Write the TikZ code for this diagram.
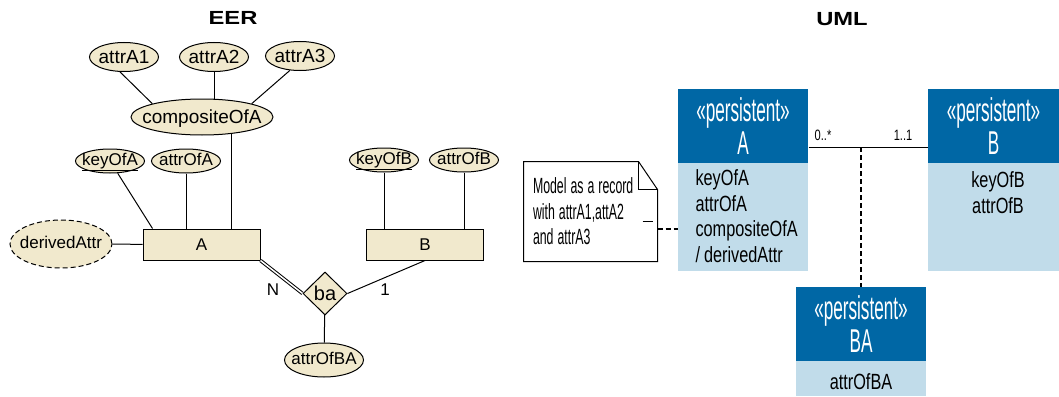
\documentclass[tikz,border=0pt]{standalone}
\usepackage{fontspec}
\setmainfont{Liberation Sans}
\newfontfamily\umlhead[FakeStretch=0.52]{Liberation Sans}
\newfontfamily\umlbody[FakeStretch=0.74]{Liberation Sans}
\newfontfamily\umlnote[FakeStretch=0.56]{Liberation Sans}
\newfontfamily\titlefont[FakeStretch=1.25]{Liberation Sans}
\usetikzlibrary{shapes.geometric}
\definecolor{eerfill}{HTML}{F1E9CD}
\definecolor{umldark}{HTML}{0067A5}
\definecolor{umllight}{HTML}{C1DCEA}
\newcommand{\etxt}[1]{\makebox[0pt]{#1}}
\newcommand{\tightspace}{\spaceskip=4pt\relax}

\begin{document}
\begin{tikzpicture}[x=1pt,y=-1pt,line width=1pt,
  heading/.style={font=\titlefont\bfseries\fontsize{19}{22}\selectfont},
  attr/.style={ellipse,draw,fill=eerfill,inner sep=0pt,minimum width=69pt,minimum height=24pt,
    text height=12pt,text depth=3pt,font=\fontsize{17}{20}\selectfont},
  bigattr/.style={attr,minimum height=29pt,text height=13.5pt,text depth=0pt,font=\fontsize{19}{22}\selectfont},
  entity/.style={draw,fill=eerfill,minimum width=117pt,minimum height=31pt,inner sep=0pt,font=\fontsize{17}{20}\selectfont},
  relation/.style={diamond,draw,fill=eerfill,minimum width=44pt,minimum height=43pt,inner sep=0pt,font=\fontsize{20}{22}\selectfont},
  card/.style={font=\fontsize{17}{20}\selectfont},
  classhead/.style={fill=umldark,text=white,minimum width=130pt,minimum height=74pt,inner sep=0pt,align=center,
    font=\umlhead\fontsize{33}{33}\selectfont},
  classbody/.style={fill=umllight,minimum width=130pt,inner sep=0pt},
  members/.style={inner sep=0pt,font=\umlbody\fontsize{22}{25.7}\selectfont},
  mult/.style={inner sep=0pt,font=\umlbody\fontsize{15}{16}\selectfont},
  notebox/.style={minimum width=133pt,minimum height=99pt,text width=115pt,inner xsep=9pt,inner ysep=0pt,align=left,
    font=\umlnote\fontsize{22}{25.5}\selectfont},
  dashlink/.style={dash pattern=on 5pt off 3pt,line width=1.5pt}]
\useasboundingbox (0,0) rectangle (1059,396);
\node[heading] (eer) at (233,18) {EER};
\node[heading] (uml) at (842,19) {UML};
\node[bigattr] (attrA1) at (124,57) {\etxt{attrA1}};
\node[bigattr] (attrA2) at (214,57) {\etxt{attrA2}};
\node[bigattr] (attrA3) at (300,56) {\etxt{attrA3}};
\node[bigattr,minimum width=142pt,minimum height=36pt] (compositeOfA) at (202,117) {\etxt{compositeOfA}};
\node[attr] (keyOfA) at (110,161) {\etxt{\underline{keyOfA}}};
\node[attr] (attrOfA) at (186,161) {\etxt{attrOfA}};
\node[attr,dash pattern=on 5pt off 3pt,minimum width=102pt,minimum height=48pt] (derivedAttr) at (61,244) {\etxt{derivedAttr}};
\node[entity] (A) at (201.5,244.5) {A};
\node[entity] (B) at (425,244.5) {B};
\node[attr] (keyOfB) at (384,160) {\etxt{\underline{keyOfB}}};
\node[attr] (attrOfB) at (464,160) {\etxt{attrOfB}};
\node[relation] (ba) at (325,293.5) {ba};
\node[attr,minimum width=79pt,minimum height=34pt] (attrOfBA) at (324,360) {\etxt{attrOfBA}};
\node[card] (cardN) at (273,290) {N};
\node[card] (card1) at (385,290) {1};
\draw (attrA1.-105) -- (compositeOfA.165);
\draw (attrA2.south) -- (attrA2.south |- compositeOfA.north);
\draw (attrA3.-125) -- (compositeOfA.15);
\draw (compositeOfA.-30) -- (compositeOfA.-30 |- A.north);
\draw (keyOfA) -- ([xshift=10pt]A.north west);
\draw (attrOfA) -- (attrOfA |- A.north);
\draw (derivedAttr) -- (A);
\draw (keyOfB) -- (keyOfB |- B.north);
\draw (attrOfB) -- (attrOfB |- B.north);
\draw[double,double distance=1.5pt] (A.south east) -- (ba.west);
\draw (B.south) -- (ba.east);
\draw (ba) -- (attrOfBA);
\node[classhead] (Ahead) at (743,126) {«persistent»\\A};
\node[classbody,minimum height=108pt] (Abody) at (743,217) {};
\node[classhead,minimum width=131pt] (Bhead) at (993.5,126) {«persistent»\\B};
\node[classbody,minimum width=131pt,minimum height=108pt] (Bbody) at (993.5,217) {};
\node[classhead] (BAhead) at (861,324) {«persistent»\\BA};
\node[classbody,members,minimum height=35pt,text height=22pt,text depth=0pt] (BAbody) at (861,378.5) {attrOfBA};
\node[members,align=left,anchor=north west] (Aattrs) at (695,169) {keyOfA\\attrOfA\\compositeOfA\\/\hspace{4pt}derivedAttr};
\node[members,align=center,anchor=north] (Battrs) at (998,171) {keyOfB\\attrOfB};
\node[notebox] (note) at (590.5,211.5) {\tightspace Model as a record\\with attrA1,attA2\\and attrA3};
\draw (note.north west) -- ([xshift=-19pt]note.north east) -- ([yshift=-28pt]note.north east) -- (note.south east) -- (note.south west) -- cycle;
\draw ([xshift=-19pt]note.north east) -- ++(0,28) -- ([yshift=-28pt]note.north east);
\draw ([xshift=-15pt,yshift=-9.5pt]note.east) -- ++(10,0);
\coordinate (notelink) at ([yshift=-17.5pt]note.east);
\draw[dashlink] (notelink) -- (notelink -| Abody.west);
\coordinate (assoc) at (860,147);
\draw (assoc -| Ahead.east) -- (assoc -| Bhead.west);
\draw[dashlink] (BAhead.north |- assoc) -- (BAhead.north);
\node[mult] (multA) at (823,135) {0..*};
\node[mult] (multB) at (903,135) {1..1};
\end{tikzpicture}
\end{document}
